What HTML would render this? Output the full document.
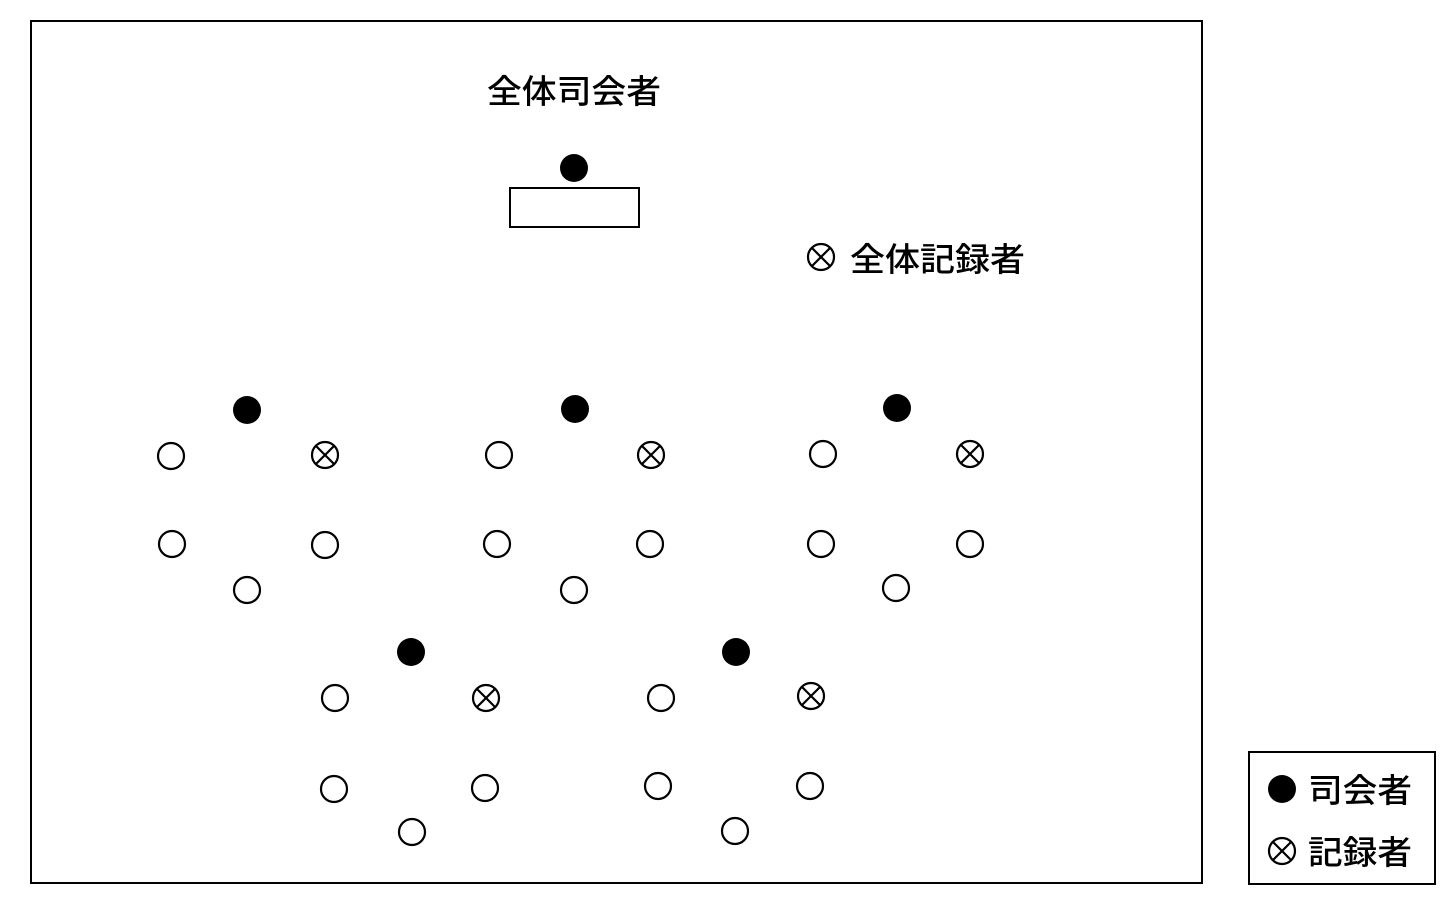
<!DOCTYPE html>
<html><head><meta charset="utf-8"><style>
html,body{margin:0;padding:0;background:#fff;}
svg text{font-family:"Liberation Sans","Noto Sans CJK JP",sans-serif;font-weight:500;fill:#000;}
</style></head><body>
<svg width="1456" height="908" viewBox="0 0 1456 908" xmlns="http://www.w3.org/2000/svg">
<defs>
<g id="h"><circle r="13" fill="#fff" stroke="#000" stroke-width="2.2"/></g>
<g id="f"><circle r="14" fill="#000"/></g>
<g id="x"><circle r="13" fill="#fff" stroke="#000" stroke-width="2.2"/><line x1="-9" y1="-9" x2="9" y2="9" stroke="#000" stroke-width="2.2"/><line x1="9" y1="-9" x2="-9" y2="9" stroke="#000" stroke-width="2.2"/></g>
</defs>
<rect x="31" y="21" width="1171" height="862" fill="none" stroke="#000" stroke-width="2"/>
<text x="487" y="103" font-size="33" textLength="174" lengthAdjust="spacingAndGlyphs">全体司会者</text>
<use href="#f" x="574" y="168"/>
<rect x="510" y="188" width="129" height="39" fill="none" stroke="#000" stroke-width="2"/>
<use href="#x" x="821" y="257"/>
<text x="850" y="271" font-size="33" textLength="175" lengthAdjust="spacingAndGlyphs">全体記録者</text>

<use href="#f" x="247" y="410"/><use href="#h" x="171" y="456"/><use href="#x" x="325" y="455"/>
<use href="#h" x="172" y="544"/><use href="#h" x="325" y="545"/><use href="#h" x="247" y="590"/>

<use href="#f" x="575" y="409"/><use href="#h" x="499" y="455"/><use href="#x" x="651" y="455"/>
<use href="#h" x="497" y="544"/><use href="#h" x="650" y="544"/><use href="#h" x="574" y="590"/>

<use href="#f" x="897" y="408"/><use href="#h" x="823" y="454"/><use href="#x" x="970" y="454"/>
<use href="#h" x="821" y="544"/><use href="#h" x="970" y="544"/><use href="#h" x="896" y="588"/>

<use href="#f" x="411" y="652"/><use href="#h" x="335" y="698"/><use href="#x" x="486" y="698"/>
<use href="#h" x="334" y="789"/><use href="#h" x="485" y="788"/><use href="#h" x="412" y="832"/>

<use href="#f" x="736" y="652"/><use href="#h" x="661" y="698"/><use href="#x" x="811" y="696"/>
<use href="#h" x="658" y="786"/><use href="#h" x="810" y="786"/><use href="#h" x="735" y="831"/>

<rect x="1249" y="752" width="186" height="132" fill="none" stroke="#000" stroke-width="2"/>
<use href="#f" x="1282" y="789"/>
<text x="1308" y="802" font-size="33" textLength="104" lengthAdjust="spacingAndGlyphs">司会者</text>
<use href="#x" x="1282" y="851"/>
<text x="1308" y="864" font-size="33" textLength="104" lengthAdjust="spacingAndGlyphs">記録者</text>
</svg>
</body></html>
